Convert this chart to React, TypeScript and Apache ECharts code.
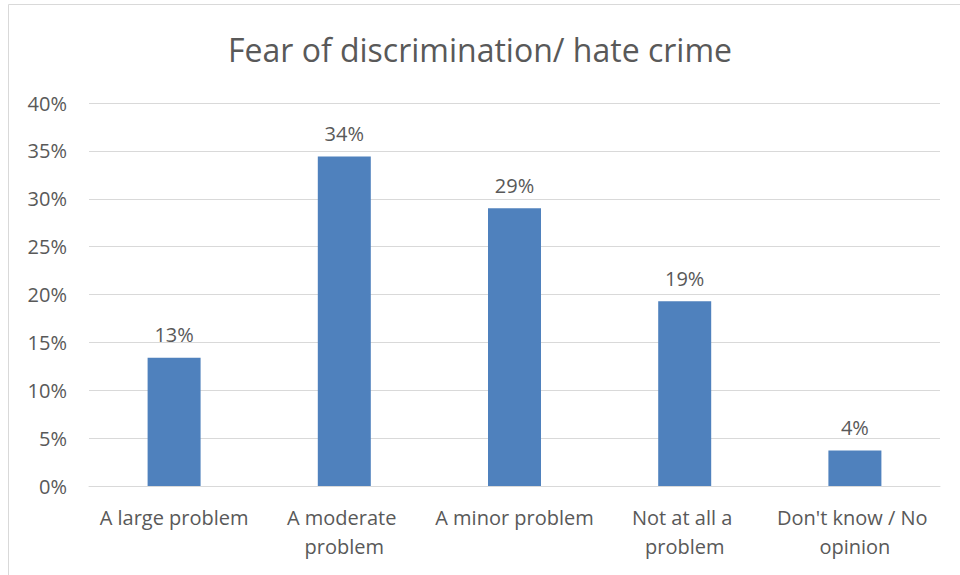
import React, { useEffect, useRef } from "react";
import * as echarts from "echarts";

const title = "Fear of discrimination/ hate crime";
const categories = ["A large problem", "A moderate problem", "A minor problem", "Not at all a problem", "Don't know / No opinion"];
const values = [13.4, 34.4, 29.0, 19.3, 3.7];
const yTicks = [0, 5, 10, 15, 20, 25, 30, 35, 40];

const FONT = "'Open Sans', 'Noto Sans', sans-serif";
const TEXT = "#595959";

export default function App() {
  const ref = useRef<HTMLDivElement>(null);
  useEffect(() => {
    document.body.style.margin = "0";
    const chart = echarts.init(ref.current!, null, { renderer: "svg" });
    chart.setOption({
      animation: false,
      backgroundColor: "#ffffff",
      title: {
        text: title,
        left: "center",
        top: 28,
        textStyle: { fontFamily: FONT, fontSize: 32, fontWeight: "normal", color: TEXT },
      },
      graphic: [
        {
          type: "rect",
          shape: { x: 8.5, y: 4.5, width: 1000, height: 1000 },
          style: { fill: "none", stroke: "#d9d9d9", lineWidth: 1 },
          silent: true,
        },
      ],
      grid: { left: 89, right: 20, top: 103, bottom: 89 },
      xAxis: {
        type: "category",
        data: categories,
        axisLine: { show: true, lineStyle: { color: "#d9d9d9", width: 1 } },
        axisTick: { show: false },
        axisLabel: {
          color: TEXT,
          fontFamily: FONT,
          fontSize: 20,
          lineHeight: 29,
          margin: 17,
          width: 168,
          overflow: "break",
          interval: 0,
        },
      },
      yAxis: {
        type: "value",
        min: yTicks[0],
        max: yTicks[yTicks.length - 1],
        interval: 5,
        axisLine: { show: false },
        axisTick: { show: false },
        splitLine: { lineStyle: { color: "#d9d9d9", width: 1 } },
        axisLabel: {
          color: TEXT,
          fontFamily: FONT,
          fontSize: 20,
          margin: 22,
          formatter: (v: number) => `${v}%`,
        },
      },
      series: [
        {
          type: "bar",
          data: values,
          barWidth: 53,
          itemStyle: { color: "#4f81bd" },
          label: {
            show: true,
            position: "top",
            distance: 13,
            color: TEXT,
            fontFamily: FONT,
            fontSize: 20,
            formatter: (p: any) => `${Math.round(p.value)}%`,
          },
        },
      ],
    });
    return () => chart.dispose();
  }, []);
  return <div ref={ref} style={{ width: 960, height: 575 }} />;
}
